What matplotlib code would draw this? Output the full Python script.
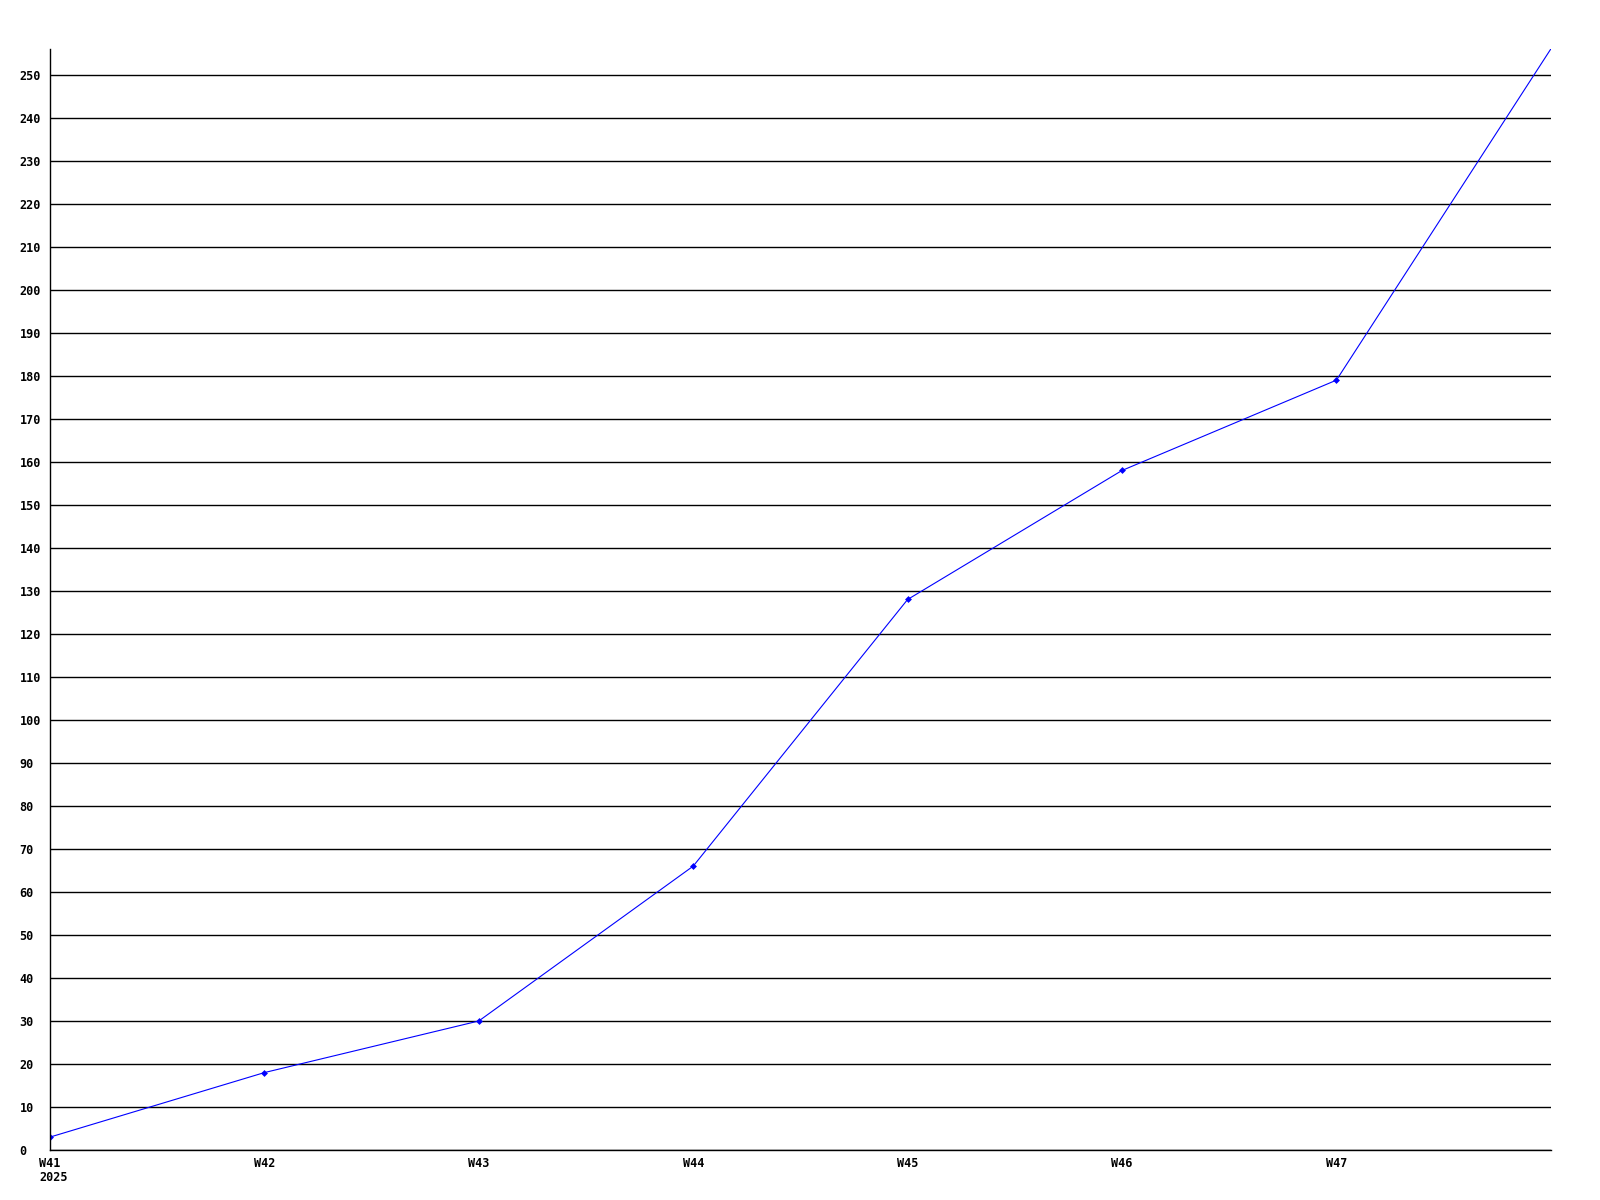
#!/usr/bin/env python3
"""Weekly cumulative count, W41 2025 onwards."""

import matplotlib
matplotlib.use("Agg")
import matplotlib.pyplot as plt

# Data
WEEKS = ["W41", "W42", "W43", "W44", "W45", "W46", "W47", "W48"]
VALUES = [3, 18, 30, 66, 128, 158, 179, 256]
TICK_LABELS = ["W41", "W42", "W43", "W44", "W45", "W46", "W47"]
YEAR_LABEL = "2025"
Y_TICKS = list(range(0, 251, 10))

FONT = {"family": "DejaVu Sans Mono", "weight": "bold", "size": 8.5}

fig = plt.figure(figsize=(16, 12), dpi=100)
ax = fig.add_axes([0.03125, 0.041667, 0.938, 0.9175])

x = list(range(len(WEEKS)))
# last point is the running week: line only, no marker
ax.plot(x, VALUES, color="#0000ff", linewidth=0.8,
        marker="D", markersize=3.5, markeredgewidth=0,
        markevery=list(range(len(VALUES) - 1)))

ax.set_xlim(0, len(WEEKS) - 1)
ax.set_ylim(0, 256)

# horizontal grid lines every 10
ax.set_yticks(Y_TICKS)
ax.yaxis.grid(True, color="black", linewidth=1.0)
ax.set_axisbelow(True)
ax.set_yticklabels([str(v) for v in Y_TICKS], fontdict=FONT, ha="left")
ax.tick_params(axis="y", length=0, pad=22)

ax.set_xticks(range(len(TICK_LABELS)))
ax.set_xticklabels(TICK_LABELS, fontdict=FONT)
ax.tick_params(axis="x", length=0, pad=5)

# year under the first week, left-aligned with "W41"
half_w = len(TICK_LABELS[0]) * 0.602 * FONT["size"] / 2
ax.annotate(YEAR_LABEL, xy=(0, 0), xycoords=("data", "axes fraction"),
            xytext=(-half_w, -22), textcoords="offset points",
            ha="left", va="baseline", annotation_clip=False, **FONT)

for side in ("top", "right"):
    ax.spines[side].set_visible(False)
for side in ("left", "bottom"):
    ax.spines[side].set_color("black")
    ax.spines[side].set_linewidth(1.0)

plt.savefig("out.png", dpi=100)
